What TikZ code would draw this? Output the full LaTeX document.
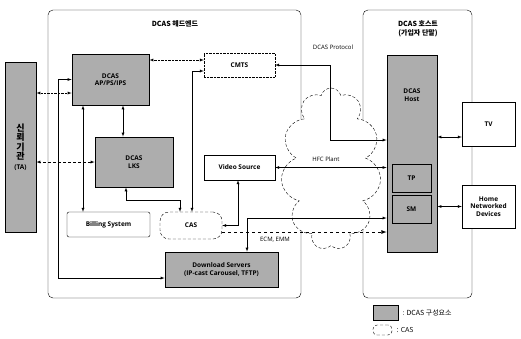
\documentclass[tikz,border=0pt]{standalone}
\usepackage{fontspec}
\setmainfont{Open Sans}
\newfontfamily\kor{Noto Sans CJK KR}
\usetikzlibrary{shapes.symbols}

\begin{document}
\begin{tikzpicture}[x=1pt,y=-1pt,>=latex,
  part/.style={draw,thick,fill=black!32,inner sep=0pt,align=center,font=\bfseries\fontsize{6.5}{7.5}\selectfont},
  unit/.style={draw,fill=white,inner sep=0pt,align=center,font=\bfseries\fontsize{6.5}{7.5}\selectfont},
  casbox/.style={draw,densely dashed,rounded corners=9pt,fill=white,inner sep=0pt,font=\bfseries\fontsize{6.5}{7.5}\selectfont},
  tag/.style={font=\fontsize{6}{7}\selectfont,inner sep=1pt},
  title/.style={font=\kor\bfseries\fontsize{7}{9}\selectfont,align=center}]
  \useasboundingbox (0,0) rectangle (521,338);
  % frames
  \draw[rounded corners=5pt] (48,10) rectangle (301,298);
  \draw[rounded corners=5pt] (363,10) rectangle (472,298);
  \node[title] (headtitle) at (175,24) {DCAS 헤드엔드};
  \node[title] (hosttitle) at (418,29) {DCAS 호스트\\(가입자 단말)};
  \node[cloud,cloud puffs=11,aspect=0.6,draw,densely dashed,fill=white,minimum width=100,minimum height=162] (hfc) at (331,169) {};
  % boxes
  \node[part,minimum width=31,minimum height=170] (ta) at (20.5,147)
    {\kor\fontsize{9}{15}\selectfont 신\\\kor\fontsize{9}{15}\selectfont 뢰\\\kor\fontsize{9}{15}\selectfont 기\\\kor\fontsize{9}{15}\selectfont 관\\[2pt](TA)};
  \node[part,minimum width=77,minimum height=51] (ap) at (110.5,79.5) {DCAS\\AP/PS/IPS};
  \node[unit,densely dotted,minimum width=71,minimum height=24] (cmts) at (239.5,65) {CMTS};
  \node[part,minimum width=78,minimum height=50] (lks) at (134,162) {DCAS\\LKS};
  \node[unit,minimum width=71,minimum height=25] (video) at (239.5,167.5) {Video Source};
  \node[unit,rounded corners=2pt,minimum width=83,minimum height=25] (bill) at (108.5,224.5) {Billing System};
  \node[casbox,minimum width=62,minimum height=27] (cas) at (191,225.5) {CAS};
  \node[part,minimum width=113,minimum height=35] (dl) at (221.5,269.5) {Download Servers\\(IP-cast Carousel, TFTP)};
  \node[part,minimum width=50,minimum height=197] (host) at (412,153.5) {};
  \node[font=\bfseries\fontsize{6.5}{7.5}\selectfont,align=center] (hostname) at (412,95) {DCAS\\Host};
  \node[part,thin,minimum width=39,minimum height=28] (tp) at (411.5,178) {TP};
  \node[part,thin,minimum width=39,minimum height=28] (sm) at (411.5,209) {SM};
  \node[unit,minimum width=53,minimum height=44] (tv) at (488.5,124) {TV};
  \node[unit,minimum width=53,minimum height=43] (home) at (488.5,206.5) {Home\\Networked\\Devices};
  % connectors
  \draw[<->,densely dotted] ([yshift=-13.5pt]ap.west) -- ([yshift=-13.5pt]ap.west -| ta.east);
  \draw[<->,densely dashed] (lks.west) -- (lks.west -| ta.east);
  \draw[<->,densely dotted] ([yshift=5pt]cmts.west) -- ([yshift=5pt]cmts.west -| ap.east);
  \draw[<->] ([xshift=12.5pt]ap.south) -- ([xshift=12.5pt]ap.south |- lks.north);
  \draw[<->] ([xshift=-27.5pt]ap.south) -- ([xshift=-27.5pt]ap.south |- bill.north);
  \draw[<->] (ap.west) -- ++(-13,0) |- ([yshift=-8.5pt]dl.west);
  \draw[<->] ([xshift=-8pt]lks.south) -- ++(0,13) -| ([xshift=-11pt]cas.north);
  \draw[<->] ([yshift=-6pt]cmts.west) -| ([xshift=1pt]cas.north);
  \draw[<->] ([xshift=-1.5pt]video.south) |- (cas.east);
  \draw[<->] (video.east) -- (video.east -| host.west);
  \node[tag] (hfclabel) at (326,159) {HFC Plant};
  \draw[<->] (cmts.east) -- ++(55,0) |- ([yshift=13.5pt]host.west);
  \node[tag] (protolabel) at (333,47) {DCAS Protocol};
  \draw[<->] ([xshift=25.5pt]dl.north) |- ([yshift=-64.5pt]host.west);
  \draw[->,thick,dashed] ([yshift=-6.5pt]cas.east) -- ([yshift=-6.5pt]cas.east -| host.west);
  \node[tag] (ecmlabel) at (275,240) {ECM, EMM};
  \draw[<->] ([yshift=-13pt]tv.west) -- ([yshift=-13pt]tv.west -| host.east);
  \draw[<->] (home.west) -- (home.west -| host.east);
  % legend
  \node[part,minimum width=25,minimum height=15] (keypart) at (385.5,312.5) {};
  \node[anchor=west,font=\kor\fontsize{7}{8}\selectfont] (keyparttext) at (399,312.5) {: DCAS 구성요소};
  \node[casbox,rounded corners=4pt,minimum width=19,minimum height=10] (keycas) at (382.5,330) {};
  \node[anchor=west,font=\fontsize{7}{8}\selectfont] (keycastext) at (393,330) {: CAS};
\end{tikzpicture}
\end{document}
